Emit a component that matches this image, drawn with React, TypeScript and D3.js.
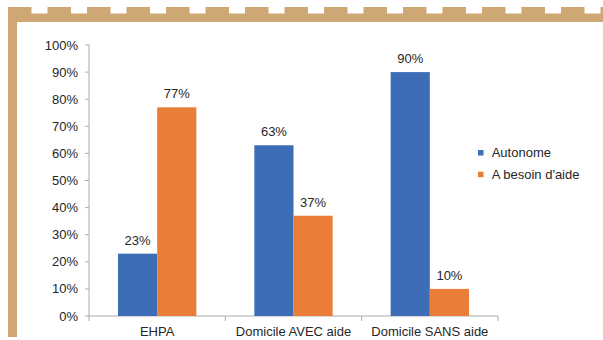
import React from "react";
import * as d3 from "d3";

const categories = ["EHPA", "Domicile AVEC aide", "Domicile SANS aide"];
const seriesNames = ["Autonome", "A besoin d'aide"];
const autonome = [23, 63, 90];
const besoinAide = [77, 37, 10];
const yTicks = [0, 10, 20, 30, 40, 50, 60, 70, 80, 90, 100];

const W = 603;
const H = 340;
const colors = ["#3D6DB6", "#EA7E38"];
const frameColor = "#CEA775";
const axisColor = "#ABABAB";
const textColor = "#262626";
const font = "'Liberation Sans', Arial, sans-serif";

export default function App() {
  const x0 = d3.scaleBand<string>().domain(categories).range([89, 498]).padding(0);
  const x1 = d3
    .scaleBand<string>()
    .domain(seriesNames)
    .range([0, x0.bandwidth()])
    .paddingInner(0)
    .paddingOuter(0.74);
  const y = d3.scaleLinear().domain([0, 100]).range([316, 45]);

  const series = [autonome, besoinAide];

  // dashed top edge of the frame
  const dashStarts = d3.range(8, W, 39.5);

  return (
    <svg
      width={W}
      height={H}
      style={{ position: "absolute", left: 0, top: 0, background: "#fff" }}
      fontFamily={font}
    >
      <rect x={0} y={0} width={W} height={H} fill="#fff" />
      {/* frame */}
      <rect x={8} y={13.5} width={W - 8} height={8.5} fill={frameColor} />
      {dashStarts.map((d, i) => (
        <rect key={i} x={d} y={7} width={23.5} height={7} fill={frameColor} />
      ))}
      <rect x={8} y={7} width={9} height={330} fill={frameColor} />

      {/* y axis */}
      <line x1={89} x2={89} y1={y(100)} y2={y(0)} stroke={axisColor} strokeWidth={1} />
      {yTicks.map((t) => (
        <g key={t}>
          <line x1={85} x2={89} y1={y(t)} y2={y(t)} stroke={axisColor} strokeWidth={1} />
          <text
            x={78}
            y={y(t)}
            dy="0.35em"
            textAnchor="end"
            fontSize={13}
            fill={textColor}
          >
            {t}%
          </text>
        </g>
      ))}

      {/* x axis */}
      <line x1={89} x2={498} y1={y(0)} y2={y(0)} stroke={axisColor} strokeWidth={1} />
      {[...categories.map((c) => x0(c) as number), 498].map((xv, i) => (
        <line key={i} x1={xv} x2={xv} y1={y(0)} y2={y(0) + 5} stroke={axisColor} strokeWidth={1} />
      ))}
      {categories.map((c) => (
        <text
          key={c}
          x={(x0(c) as number) + x0.bandwidth() / 2}
          y={335.5}
          textAnchor="middle"
          fontSize={13}
          fill={textColor}
        >
          {c}
        </text>
      ))}

      {/* bars and value labels */}
      {categories.map((c, ci) => (
        <g key={c} transform={`translate(${x0(c)},0)`}>
          {seriesNames.map((s, si) => {
            const v = series[si][ci];
            const bx = x1(s) as number;
            return (
              <g key={s}>
                <rect
                  x={bx}
                  y={y(v)}
                  width={x1.bandwidth()}
                  height={y(0) - y(v)}
                  fill={colors[si]}
                />
                <text
                  x={bx + x1.bandwidth() / 2}
                  y={y(v) - 9}
                  textAnchor="middle"
                  fontSize={13}
                  fill={textColor}
                >
                  {v}%
                </text>
              </g>
            );
          })}
        </g>
      ))}

      {/* legend */}
      {seriesNames.map((s, i) => (
        <g key={s} transform={`translate(478,${150 + i * 21.7})`}>
          <rect x={0} y={0} width={5.5} height={5.5} fill={colors[i]} />
          <text x={13.7} y={7.3} fontSize={13} fill={textColor}>
            {s}
          </text>
        </g>
      ))}
    </svg>
  );
}
